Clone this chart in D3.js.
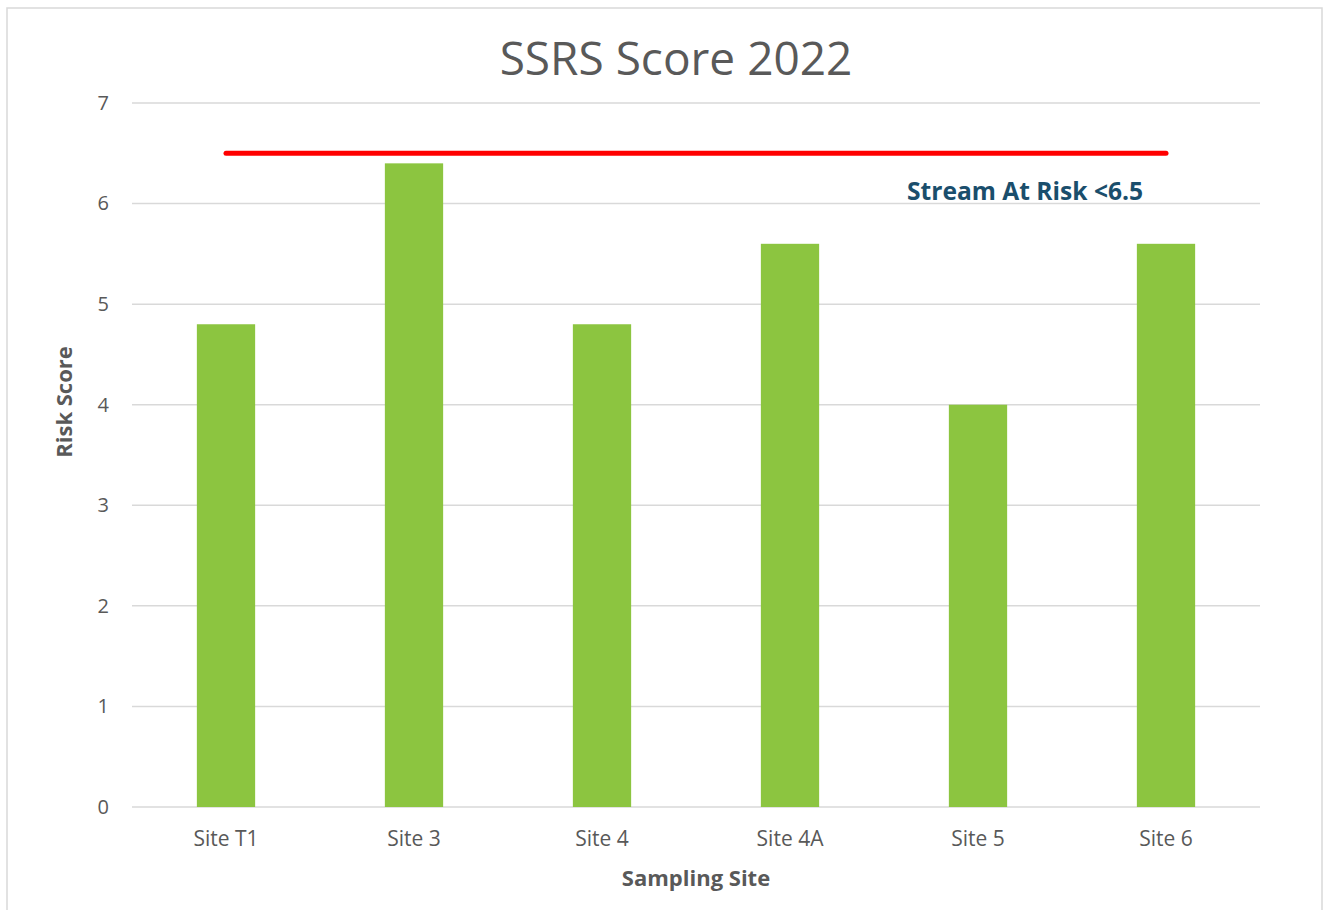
<!DOCTYPE html>
<html><head><meta charset="utf-8">
<script src="https://cdn.jsdelivr.net/npm/d3@7"></script>
<style>body{margin:0;background:#fff;} svg{display:block;}</style>
</head><body>
<script>
const categories = ["Site T1","Site 3","Site 4","Site 4A","Site 5","Site 6"];
const values = [4.8, 6.4, 4.8, 5.6, 4.0, 5.6];
const yTicks = [0,1,2,3,4,5,6,7];
const threshold = 6.5;
const titleText = "SSRS Score 2022";
const annotationText = "Stream At Risk <6.5";
const xTitle = "Sampling Site";
const yTitle = "Risk Score";

(function(){
const W = 1324, H = 910;
const font = "'Open Sans', Lato, sans-serif";
const svg = d3.select("body").append("svg").attr("width", W).attr("height", H);

svg.append("rect").attr("x", 7).attr("y", 8).attr("width", 1315).attr("height", 910)
  .attr("fill", "#fff").attr("stroke", "#d9d9d9").attr("stroke-width", 1.5);

const pLeft = 132, pRight = 1260, pTop = 103, pBottom = 807;
const x = d3.scaleBand().domain(categories).range([pLeft, pRight]).paddingInner(0.69).paddingOuter(0.345);
const y = d3.scaleLinear().domain([0, 7]).range([pBottom, pTop]);

svg.append("g").selectAll("line").data(yTicks).join("line")
  .attr("x1", pLeft).attr("x2", pRight)
  .attr("y1", d => y(d)).attr("y2", d => y(d))
  .attr("stroke", "#d9d9d9").attr("stroke-width", 1.5);

const yAxis = d3.axisLeft(y).tickValues(yTicks).tickFormat(d3.format("d")).tickSize(0).tickPadding(23);
const gy = svg.append("g").attr("transform", `translate(${pLeft},0)`).call(yAxis);
gy.select(".domain").remove();
gy.selectAll("text").attr("font-family", font).attr("font-size", 20).attr("fill", "#595959");

svg.append("g").selectAll("rect").data(values).join("rect")
  .attr("x", (d, i) => x(categories[i]))
  .attr("width", x.bandwidth())
  .attr("y", d => y(d))
  .attr("height", d => y(0) - y(d))
  .attr("fill", "#8cc540");

const xAxis = d3.axisBottom(x).tickSize(0).tickPadding(24);
const gx = svg.append("g").attr("transform", `translate(0,${pBottom})`).call(xAxis);
gx.select(".domain").remove();
gx.selectAll("text").attr("font-family", font).attr("font-size", 21).attr("fill", "#595959");

const xc = c => x(c) + x.bandwidth() / 2;
svg.append("line")
  .attr("x1", xc(categories[0])).attr("x2", xc(categories[categories.length - 1]))
  .attr("y1", y(threshold)).attr("y2", y(threshold))
  .attr("stroke", "#ff0000").attr("stroke-width", 5).attr("stroke-linecap", "round");

svg.append("text").attr("x", 907).attr("y", 200)
  .attr("font-family", font).attr("font-weight", "bold").attr("font-size", 24.6)
  .attr("fill", "#1a4e6c").text(annotationText);

svg.append("text").attr("x", 676).attr("y", 75).attr("text-anchor", "middle")
  .attr("font-family", font).attr("font-size", 46).attr("fill", "#595959").text(titleText);

svg.append("text").attr("x", (pLeft + pRight) / 2).attr("y", 886).attr("text-anchor", "middle")
  .attr("font-family", font).attr("font-weight", "bold").attr("font-size", 22)
  .attr("fill", "#595959").text(xTitle);

svg.append("text").attr("transform", "translate(72,402) rotate(-90)").attr("text-anchor", "middle")
  .attr("font-family", font).attr("font-weight", "bold").attr("font-size", 22)
  .attr("fill", "#595959").text(yTitle);
})();
</script>
</body></html>
